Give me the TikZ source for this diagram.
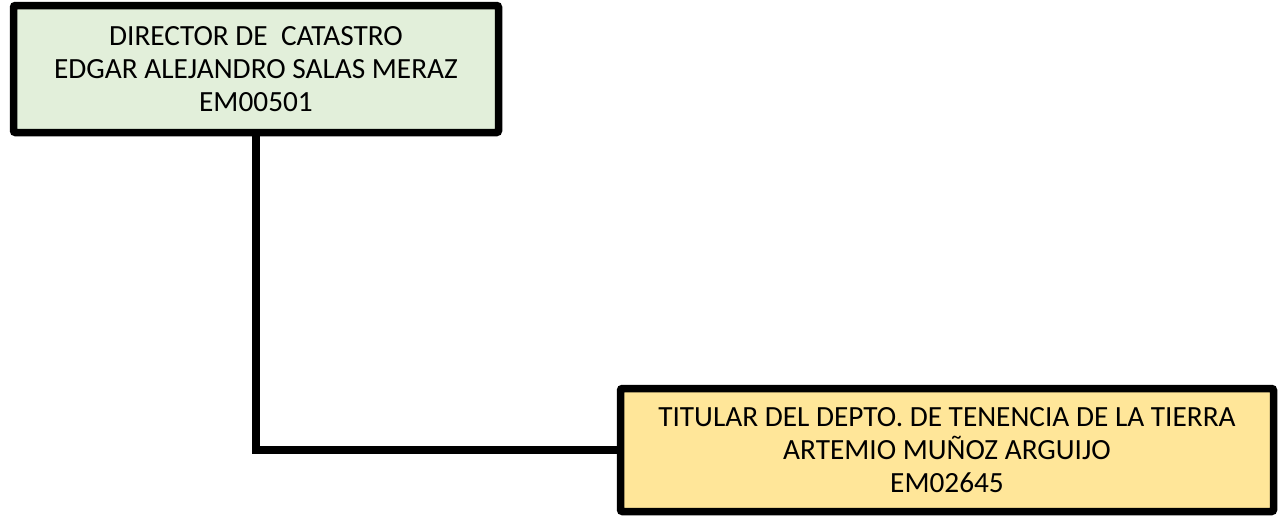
\documentclass[tikz,border=0pt]{standalone}
\usepackage{fontspec}
\setmainfont{Carlito}
\usetikzlibrary{positioning}
\definecolor{boxgreen}{HTML}{E2EFDA}
\definecolor{boxgold}{HTML}{FFE699}

\begin{document}
\begin{tikzpicture}[x=1pt, y=-1pt,
		b/.style={rectangle, draw=black, line width=7.5pt, rounded corners=2pt, align=center, inner sep=0pt,
			font=\fontsize{29.3}{33}\selectfont},
		dir/.style={fill=boxgreen, minimum width=485pt, minimum height=127pt},
		tit/.style={fill=boxgold, minimum width=653pt, minimum height=123pt},
		link/.style={line width=7.5pt}]
		\useasboundingbox (0,0) rectangle (1279,515);

		\node [b, dir] (D) at (256,69) {DIRECTOR DE\ \ CATASTRO\\EDGAR ALEJANDRO SALAS MERAZ\\EM00501};
		\node [b, tit] (T) at (947,450) {TITULAR DEL DEPTO. DE TENENCIA DE LA TIERRA\\ARTEMIO MUÑOZ ARGUIJO\\EM02645};

		\draw [link] (D.south) |- (T.west);
	\end{tikzpicture}
\end{document}
